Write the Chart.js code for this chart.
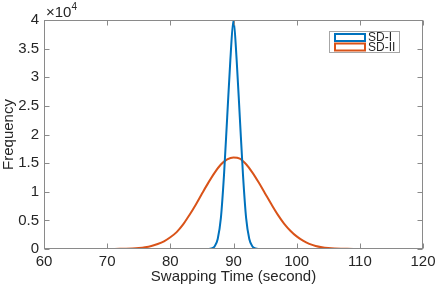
<!DOCTYPE html>
<html>
<head>
<meta charset="utf-8">
<script src="https://cdn.jsdelivr.net/npm/chart.js@4/dist/chart.umd.min.js"></script>
<style>
  html, body { margin: 0; padding: 0; background: #fff; }
  #wrap { width: 436px; height: 287px; }
</style>
</head>
<body>
<div id="wrap"><canvas id="c" width="436" height="287"></canvas></div>
<script>
// ---- data ----
const seriesNames = ['SD-I', 'SD-II'];
const sd1Time = [85, 85.5, 86, 86.5, 87, 87.5, 88, 88.5, 89, 89.5, 90, 90.5, 91, 91.5, 92, 92.5, 93, 93.5, 94, 94.5, 95, 95.5];
const sd1Freq = [0, 0, 10, 90, 440, 1760, 5400, 13000, 23000, 33000, 40000, 33000, 23000, 13000, 5400, 1760, 440, 90, 10, 0, 0, 0];
const sd2Time = [67, 68, 69, 70, 71, 72, 73, 74, 75, 76, 77, 78, 79, 80, 81, 82, 83, 84, 85, 86, 87, 88, 89, 90, 91, 92, 93, 94, 95, 96, 97, 98, 99, 100, 101, 102, 103, 104, 105, 106, 107, 108, 109, 110, 111, 112, 113, 114, 115, 116];
const sd2Freq = [0, 0, 5, 10, 15, 25, 50, 95, 180, 320, 540, 880, 1350, 2050, 2950, 4250, 5900, 7700, 9650, 11550, 13300, 14750, 15650, 16000, 15800, 14800, 13350, 11600, 9700, 7800, 6000, 4450, 3200, 2200, 1450, 900, 540, 320, 180, 95, 50, 25, 12, 6, 3, 0, 0, 0, 0, 0];
const xTicks = [60, 70, 80, 90, 100, 110, 120];
const yTickLabels = ['0', '0.5', '1', '1.5', '2', '2.5', '3', '3.5', '4'];
const yExponent = '4';

const FONT = '"Liberation Sans", Arial, Helvetica, sans-serif';
const TEXT = '#262626';
const AXIS = '#8a8a8a';
const colors = ['#0072BD', '#D95319'];

const toPts = (xs, ys) => xs.map((x, i) => ({ x: x, y: ys[i] }));

const boxPlugin = {
  id: 'matlabBox',
  afterDraw(chart) {
    const ctx = chart.ctx;
    const ca = chart.chartArea;
    const xs = chart.scales.x, ys = chart.scales.y;
    ctx.save();
    ctx.strokeStyle = AXIS;
    ctx.lineWidth = 1;
    const L = Math.round(ca.left) + 0.5, R = Math.round(ca.right) - 0.5;
    const T = Math.round(ca.top) + 0.5, B = Math.round(ca.bottom) - 0.5;
    ctx.strokeRect(L, T, R - L, B - T);
    ctx.beginPath();
    xs.ticks.forEach(t => {
      const px = Math.round(xs.getPixelForValue(t.value)) + 0.5;
      ctx.moveTo(px, B); ctx.lineTo(px, B - 5);
      ctx.moveTo(px, T); ctx.lineTo(px, T + 5);
    });
    ys.ticks.forEach(t => {
      const py = Math.round(ys.getPixelForValue(t.value)) + 0.5;
      ctx.moveTo(L, py); ctx.lineTo(L + 5, py);
      ctx.moveTo(R, py); ctx.lineTo(R - 5, py);
    });
    ctx.stroke();

    // exponent label
    ctx.fillStyle = TEXT;
    ctx.textBaseline = 'alphabetic';
    ctx.textAlign = 'left';
    ctx.font = '15px ' + FONT;
    ctx.fillText('\u00d710', ca.left + 2, ca.top - 3);
    const w = ctx.measureText('\u00d710').width;
    ctx.font = '10px ' + FONT;
    ctx.fillText(yExponent, ca.left + 2 + w, ca.top - 10);

    // legend
    const lw = 71, lh = 22;
    const lx = ca.right - 23 - lw, ly = ca.top + 11;
    ctx.fillStyle = '#fff';
    ctx.fillRect(lx, ly, lw, lh);
    ctx.strokeStyle = '#a6a6a6';
    ctx.lineWidth = 1;
    ctx.strokeRect(lx + 0.5, ly + 0.5, lw - 1, lh - 1);
    ctx.font = '12px ' + FONT;
    ctx.textBaseline = 'middle';
    chart.data.datasets.forEach((ds, i) => {
      const cy = ly + 6 + i * 9.5;
      ctx.strokeStyle = ds.borderColor;
      ctx.lineWidth = 2;
      ctx.strokeRect(lx + 6, cy - 3, 30, 7);
      ctx.fillStyle = TEXT;
      ctx.fillText(ds.label, lx + 39, cy + 1);
    });
    ctx.restore();
  }
};

new Chart(document.getElementById('c'), {
  type: 'line',
  data: {
    datasets: [
      { label: seriesNames[0], data: toPts(sd1Time, sd1Freq), borderColor: colors[0], backgroundColor: '#fff',
        borderWidth: 2, pointRadius: 0, fill: false, cubicInterpolationMode: 'monotone' },
      { label: seriesNames[1], data: toPts(sd2Time, sd2Freq), borderColor: colors[1], backgroundColor: '#fff',
        borderWidth: 2, pointRadius: 0, fill: false, cubicInterpolationMode: 'monotone' }
    ]
  },
  options: {
    responsive: false,
    animation: false,
    devicePixelRatio: 1,
    layout: { padding: { top: 20, right: 13, left: 0, bottom: 0 } },
    plugins: { legend: { display: false }, tooltip: { enabled: false } },
    scales: {
      x: {
        type: 'linear', min: 60, max: 120,
        afterBuildTicks: s => { s.ticks = xTicks.map(v => ({ value: v })); },
        afterFit: s => { s.height = 38; s.paddingLeft = 0; s.paddingRight = 0; },
        grid: { display: false, drawTicks: false },
        border: { display: false },
        ticks: { color: TEXT, font: { family: FONT, size: 15 }, padding: 4, maxRotation: 0, autoSkip: false },
        title: { display: true, text: 'Swapping Time (second)', color: TEXT, font: { family: FONT, size: 15 }, padding: { top: 0, bottom: 1 } }
      },
      y: {
        type: 'linear', min: 0, max: 40000,
        afterBuildTicks: s => { s.ticks = yTickLabels.map((l, i) => ({ value: i * 5000 })); },
        afterFit: s => { s.width = 44; s.paddingTop = 0; s.paddingBottom = 0; },
        grid: { display: false, drawTicks: false },
        border: { display: false },
        ticks: { color: TEXT, font: { family: FONT, size: 15 }, padding: 5, autoSkip: false,
                 callback: (v, i) => yTickLabels[i] },
        title: { display: true, text: 'Frequency', color: TEXT, font: { family: FONT, size: 15 }, padding: { top: 0, bottom: 0 } }
      }
    }
  },
  plugins: [boxPlugin]
});
</script>
</body>
</html>
